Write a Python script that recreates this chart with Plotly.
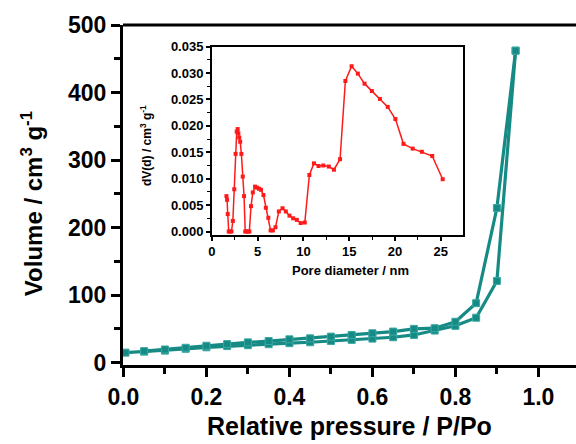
import plotly.graph_objects as go

# Main isotherm data
ads_p = [0.005, 0.05, 0.1, 0.15, 0.2, 0.25, 0.3, 0.35, 0.4, 0.45, 0.5, 0.55, 0.6, 0.65, 0.7, 0.75, 0.8, 0.85, 0.9, 0.945]
ads_v = [14.8, 16.3, 17.8, 20.5, 22.7, 24.5, 25.8, 27.3, 28.8, 30.2, 32.0, 33.7, 35.6, 37.6, 41.0, 47.5, 54.5, 66.5, 121.0, 462.0]
des_p = [0.945, 0.9, 0.85, 0.8, 0.75, 0.7, 0.65, 0.6, 0.55, 0.5, 0.45, 0.4, 0.35, 0.3, 0.25, 0.2, 0.15, 0.1, 0.05]
des_v = [462.0, 229.0, 88.0, 60.5, 51.0, 50.0, 46.0, 43.5, 41.0, 38.5, 36.0, 34.5, 32.0, 30.0, 27.5, 25.0, 22.0, 19.5, 17.0]

# Inset pore size distribution
pore_d = [1.6, 1.67, 1.74, 1.85, 2.0, 2.15, 2.3, 2.45, 2.6, 2.72, 2.82, 2.9, 3.0, 3.1, 3.23,
          3.38, 3.52, 3.65, 3.8, 3.95, 4.1, 4.28, 4.48, 4.72, 4.95, 5.15, 5.37, 5.64, 5.9, 6.17,
          6.42, 6.67, 6.95, 7.32, 7.72, 8.08, 8.48, 8.88, 9.28, 9.7, 10.15, 10.65, 11.15, 11.65, 12.17,
          12.77, 13.33, 14.0, 14.58, 15.26, 15.94, 16.67, 17.47, 18.35, 19.2, 20.04, 20.92, 21.93, 22.93, 24.06,
          25.2]
pore_v = [0.0067, 0.006, 0.0033, 0, 0, 0, 0.002, 0.008, 0.0147, 0.0189, 0.0194, 0.0186, 0.0178, 0.017, 0.0147,
          0.0104, 0.0067, 0, 0, 0, 0, 0.0048, 0.0074, 0.0085, 0.0083, 0.0081, 0.0079, 0.0069, 0.0045, 0.0026,
          0.0002, 0.0002, 0.0008, 0.0038, 0.0044, 0.0038, 0.003, 0.0025, 0.0022, 0.0016, 0.0017, 0.0107, 0.0129, 0.0124, 0.0125,
          0.0123, 0.0117, 0.0137, 0.0285, 0.0313, 0.0299, 0.028, 0.0266, 0.0251, 0.0236, 0.0213, 0.0166, 0.0157, 0.0151, 0.0143,
          0.0099]

TEAL = "#168a84"
RED = "#ff1a1a"
FONT = "Arial, Liberation Sans, sans-serif"

fig = go.Figure()
for px, py in [(ads_p, ads_v), (des_p, des_v)]:
    fig.add_trace(go.Scatter(
        x=px, y=py, mode="lines+markers",
        line=dict(color=TEAL, width=3.2),
        marker=dict(symbol="square", size=7, color=TEAL, line=dict(color="#3aa8a2", width=1)),
        xaxis="x", yaxis="y", showlegend=False, cliponaxis=False))

fig.add_trace(go.Scatter(
    x=pore_d, y=pore_v, mode="lines+markers",
    line=dict(color=RED, width=1.5),
    marker=dict(symbol="square", size=4, color=RED),
    xaxis="x2", yaxis="y2", showlegend=False, cliponaxis=False))

main_tick = dict(family=FONT, size=23, color="black", weight="bold")
inset_tick = dict(family=FONT, size=13, color="black", weight="bold")

fig.update_layout(
    width=576, height=444,
    margin=dict(l=123, r=0, t=25, b=79, autoexpand=False),
    paper_bgcolor="white", plot_bgcolor="white",
    font=dict(family=FONT, color="black"),
    xaxis=dict(domain=[0, 1], range=[-0.001, 1.0906], showgrid=False, zeroline=False, automargin=False,
               showline=True, linecolor="black", linewidth=3,
               ticks="outside", ticklen=9, tickwidth=2.5, tickcolor="black",
               tickvals=[0, 0.2, 0.4, 0.6, 0.8, 1.0],
               ticktext=["0.0", "0.2", "0.4", "0.6", "0.8", "1.0"],
               minor=dict(ticks="outside", ticklen=6, tickwidth=2.5, tickcolor="black",
                          tickvals=[0.1, 0.3, 0.5, 0.7, 0.9]),
               tickfont=main_tick),
    yaxis=dict(domain=[0, 1], range=[-3.5, 500], showgrid=False, zeroline=False, automargin=False,
               showline=True, linecolor="black", linewidth=3,
               ticks="outside", ticklen=9, tickwidth=2.5, tickcolor="black",
               tickvals=[0, 100, 200, 300, 400, 500],
               minor=dict(ticks="outside", ticklen=6, tickwidth=2.5, tickcolor="black",
                          tickvals=[50, 150, 250, 350, 450]),
               tickfont=main_tick),
    xaxis2=dict(domain=[0.196, 0.7506], anchor="y2", range=[0, 27.42], showgrid=False, zeroline=False,
                automargin=False,
                showline=True, mirror=True, linecolor="black", linewidth=1.5,
                ticks="outside", ticklen=4, tickwidth=1.5, tickcolor="black",
                tickvals=[0, 5, 10, 15, 20, 25],
                minor=dict(ticks="outside", ticklen=3, tickwidth=1, tickcolor="black",
                           tickvals=[2.5, 7.5, 12.5, 17.5, 22.5]),
                tickfont=inset_tick),
    yaxis2=dict(domain=[0.3824, 0.9362], anchor="x2", range=[-0.00066, 0.035], showgrid=False, zeroline=False,
                automargin=False,
                showline=True, mirror=True, linecolor="black", linewidth=1.5,
                ticks="outside", ticklen=4, tickwidth=1.5, tickcolor="black",
                tickvals=[0, 0.005, 0.01, 0.015, 0.02, 0.025, 0.03, 0.035],
                ticktext=["0.000", "0.005", "0.010", "0.015", "0.020", "0.025", "0.030", "0.035"],
                minor=dict(ticks="outside", ticklen=3, tickwidth=1, tickcolor="black",
                           tickvals=[0.0025, 0.0075, 0.0125, 0.0175, 0.0225, 0.0275, 0.0325]),
                tickfont=inset_tick),
    shapes=[dict(type="line", xref="paper", yref="paper", x0=0, x1=1, y0=1, y1=1,
                 line=dict(color="black", width=3))],
    annotations=[
        dict(text="Relative pressure / P/Po", xref="paper", yref="paper", x=0.5, y=-0.179,
             showarrow=False, font=dict(family=FONT, size=25, color="black", weight="bold"),
             xanchor="center", yanchor="middle"),
        dict(text="Volume / cm<sup>3</sup> g<sup>-1</sup>", xref="paper", yref="paper", x=-0.2009, y=0.476,
             showarrow=False, textangle=-90, font=dict(family=FONT, size=24, color="black", weight="bold"),
             xanchor="center", yanchor="middle"),
        dict(text="Pore diameter / nm", xref="paper", yref="paper", x=0.503, y=0.279,
             showarrow=False, font=dict(family=FONT, size=13, color="black", weight="bold"),
             xanchor="center", yanchor="middle"),
        dict(text="dV(d) / cm<sup>3</sup> g<sup>-1</sup>", xref="paper", yref="paper", x=0.0508, y=0.644,
             showarrow=False, textangle=-90, font=dict(family=FONT, size=12, color="black", weight="bold"),
             xanchor="center", yanchor="middle"),
    ],
)

fig.write_html("out.html", config={"displayModeBar": False},
               post_script="document.body.style.margin='0';document.body.style.overflow='hidden';")
